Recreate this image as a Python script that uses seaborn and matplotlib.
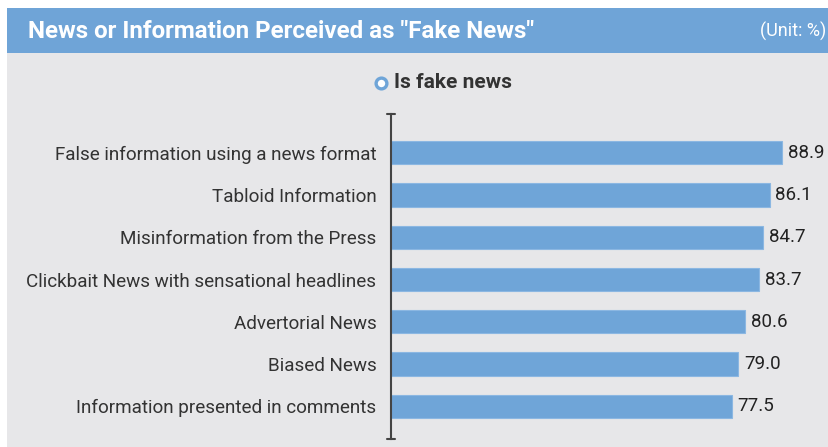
import matplotlib
matplotlib.use("Agg")
import matplotlib.pyplot as plt
import seaborn as sns
import pandas as pd
from matplotlib.patches import Rectangle

categories = [
    "False information using a news format",
    "Tabloid Information",
    "Misinformation from the Press",
    "Clickbait News with sensational headlines",
    "Advertorial News",
    "Biased News",
    "Information presented in comments",
]
values = [88.9, 86.1, 84.7, 83.7, 80.6, 79.0, 77.5]
value_labels = ["88.9", "86.1", "84.7", "83.7", "80.6", "79.0", "77.5"]
series_name = "Is fake news"
title = 'News or Information Perceived as "Fake News"'
unit = "(Unit: %)"

sns.set_theme(style="white")
plt.rcParams["font.family"] = ["Roboto", "DejaVu Sans"]

W, H = 829, 447
fig = plt.figure(figsize=(W / 100, H / 100), dpi=100)
fig.patch.set_facecolor("white")

bg = "#e7e7e9"
header = "#6fa4d7"
bar_color = "#6fa5d8"

# background / header drawn in a full-figure axes underneath
base = fig.add_axes([0, 0, 1, 1], zorder=-5)
base.set_xlim(0, W)
base.set_ylim(H, 0)
base.axis("off")
base.add_patch(Rectangle((7, 53), W - 7, H - 53, facecolor=bg, edgecolor="none"))
base.add_patch(Rectangle((7, 8), W - 7, 45, facecolor=header, edgecolor="none"))
base.text(28, 31, title, color="white", fontsize=17.4, fontweight="bold", va="center", ha="left")
base.text(826, 31, unit, color="white", fontsize=13, va="center", ha="right")
# legend
base.scatter([381], [83], s=60, facecolor="white", edgecolor=bar_color, linewidth=2.4, zorder=5)
base.text(394, 83, series_name, color="#333333", fontsize=15, fontweight="bold",
          va="center", ha="left")

left = 391 / W
ax = fig.add_axes([left, 1 - 438.7 / H, 1 - left, (438.7 - 114) / H], zorder=2)
ax.set_facecolor("none")

df = pd.DataFrame({"category": categories, "value": values})
sns.barplot(data=df, x="value", y="category", orient="h", color=bar_color, width=0.55,
            saturation=1, edgecolor="#8bb7e2", linewidth=0.8, ax=ax)

ax.set_xlim(0, 99.6)
ax.set_ylim(6.77, -0.92)
ax.set_xlabel("")
ax.set_ylabel("")
ax.set_xticks([])
ax.tick_params(axis="y", length=0, pad=10.5, labelsize=13.6, labelcolor="#333333")
for s in ["top", "right", "bottom"]:
    ax.spines[s].set_visible(False)
ax.spines["left"].set_color("#444444")
ax.spines["left"].set_linewidth(1.5)
for yy in (0, 1):
    ax.plot([-0.01, 0.01], [yy, yy], transform=ax.transAxes, color="#444444",
            lw=1.5, clip_on=False)

for i, (v, lab) in enumerate(zip(values, value_labels)):
    ax.text(v + 1.3, i, lab, va="center", ha="left", fontsize=13.5, color="#222222")

fig.savefig("out.png", dpi=100)
